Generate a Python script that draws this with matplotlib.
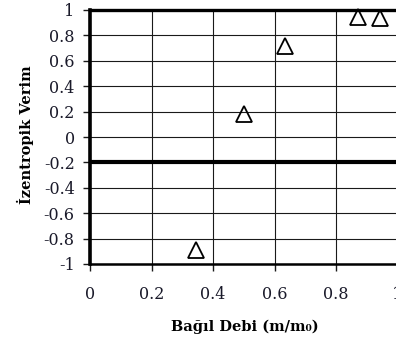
import matplotlib
matplotlib.use("Agg")
import matplotlib.pyplot as plt

# Relative mass flow vs isentropic efficiency
flow_ratio = [0.345, 0.50, 0.633, 0.873, 0.943]
efficiency = [-0.89, 0.18, 0.72, 0.945, 0.94]

x_ticks = [0, 0.2, 0.4, 0.6, 0.8, 1]
x_tick_labels = ["0", "0.2", "0.4", "0.6", "0.8", "1"]
y_ticks = [1, 0.8, 0.6, 0.4, 0.2, 0, -0.2, -0.4, -0.6, -0.8, -1]
y_tick_labels = ["1", "0.8", "0.6", "0.4", "0.2", "0", "-0.2", "-0.4", "-0.6", "-0.8", "-1"]

serif = ["DejaVu Serif"]

fig = plt.figure(figsize=(3.96, 3.47), dpi=100)
ax = fig.add_axes([90 / 396, 1 - 264 / 347, 307.5 / 396, 254 / 347])

ax.set_xlim(0, 1)
ax.set_ylim(-1, 1)
ax.set_xticks(x_ticks)
ax.set_xticklabels(x_tick_labels, family=serif, fontsize=11.5)
ax.set_yticks(y_ticks)
ax.set_yticklabels(y_tick_labels, family=serif, fontsize=11.5)

ax.grid(True, color="#1a1a1a", linewidth=0.8)
ax.set_axisbelow(True)

ax.tick_params(axis="x", direction="out", length=5, width=1, pad=11, colors="#1a1a1a")
ax.tick_params(axis="y", direction="out", length=5, width=1, pad=6, colors="#1a1a1a")
for lbl in ax.get_xticklabels() + ax.get_yticklabels():
    lbl.set_color("#1a1a2a")

ax.spines["left"].set_linewidth(2.6)
ax.spines["top"].set_linewidth(2.4)
ax.spines["bottom"].set_linewidth(1.8)
ax.spines["right"].set_visible(False)
for s in ax.spines.values():
    s.set_color("black")

# zero-reference line of the efficiency axis
ax.axhline(-0.2, color="black", linewidth=3)

ax.plot(flow_ratio, efficiency, linestyle="none", marker="^", markersize=11,
        markerfacecolor="none", markeredgecolor="black", markeredgewidth=1.3,
        clip_on=False, zorder=5)

fig.text(245 / 396, 1 - 327 / 347, "Bağıl Debi (m/m₀)", ha="center", va="center",
         family=serif, fontsize=10.5, fontweight="bold")
fig.text(25 / 396, 1 - 135 / 347, "İzentropik Verim", ha="center", va="center",
         rotation=90, family=serif, fontsize=10.5, fontweight="bold")

fig.savefig("out.png", dpi=100)
